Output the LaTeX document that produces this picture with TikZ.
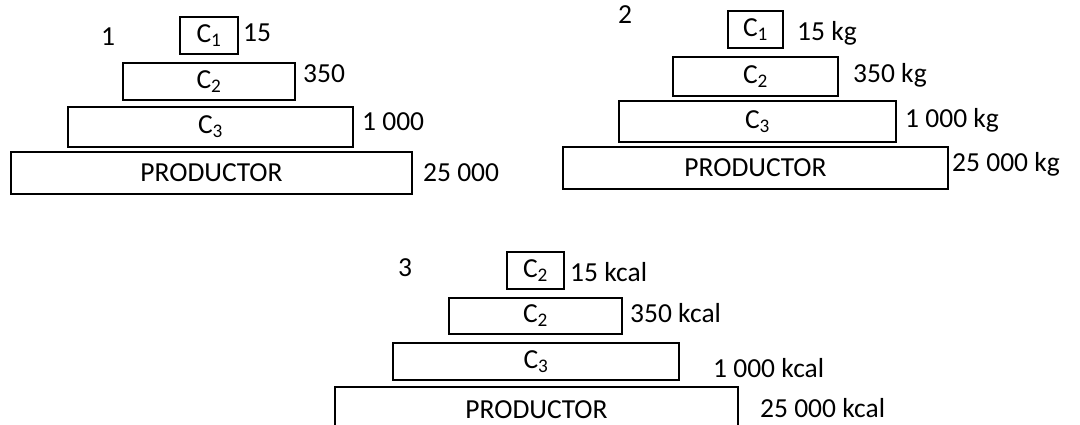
\documentclass[tikz,border=0pt]{standalone}
\usepackage{fontspec}
\setmainfont{Carlito}
\begin{document}
\begin{tikzpicture}[x=1pt,y=-1pt,
  lvl/.style={draw=black,line width=1.1pt,rectangle,inner sep=0pt,font=\fontsize{27.5}{30}\selectfont},
  val/.style={anchor=west,inner sep=0pt,font=\fontsize{27.5}{30}\selectfont},
  num/.style={inner sep=0pt,font=\fontsize{27.5}{30}\selectfont}]
\clip (0,0) rectangle (1080,425);
\fill[white] (0,0) rectangle (1080,425);
% Panel 1
\node[num] (n1) at (108,37) {1};
\node[lvl,minimum width=58pt,minimum height=37pt] (a1) at (209,35.5) {C\textsubscript{1}};
\node[lvl,minimum width=172pt,minimum height=37pt] (a2) at (209,81.5) {C\textsubscript{2}};
\node[lvl,minimum width=285pt,minimum height=40pt] (a3) at (210.5,127) {C\textsubscript{3}};
\node[lvl,minimum width=401pt,minimum height=42pt] (a4) at (211.5,173) {PRODUCTOR};
\node[val] (la1) at (243,33) {15};
\node[val] (la2) at (303,74) {350};
\node[val] (la3) at (362,122) {1 000};
\node[val] (la4) at (423,173) {25 000};
% Panel 2
\node[num] (n2) at (625,15) {2};
\node[lvl,minimum width=55pt,minimum height=37pt] (b1) at (755.5,29.5) {C\textsubscript{1}};
\node[lvl,minimum width=165pt,minimum height=39pt] (b2) at (755.5,76.5) {C\textsubscript{2}};
\node[lvl,minimum width=277pt,minimum height=41pt] (b3) at (757.5,121.5) {C\textsubscript{3}};
\node[lvl,minimum width=385pt,minimum height=42pt] (b4) at (755.5,168) {PRODUCTOR};
\node[val] (lb1) at (797,33) {15 kg};
\node[val] (lb2) at (853,75) {350 kg};
\node[val] (lb3) at (905,120) {1 000 kg};
\node[val] (lb4) at (952,164) {25 000 kg};
% Panel 3
\node[num] (n3) at (405,268) {3};
\node[lvl,minimum width=57pt,minimum height=37pt] (c1) at (535.5,270.5) {C\textsubscript{2}};
\node[lvl,minimum width=173pt,minimum height=36pt] (c2) at (535.5,316) {C\textsubscript{2}};
\node[lvl,minimum width=286pt,minimum height=37pt] (c3) at (536,361.5) {C\textsubscript{3}};
\node[lvl,minimum width=403pt,minimum height=46pt] (c4) at (536.5,410) {PRODUCTOR};
\node[val] (lc1) at (570,272) {15 kcal};
\node[val] (lc2) at (630,313) {350 kcal};
\node[val] (lc3) at (713,368) {1 000 kcal};
\node[val] (lc4) at (760,408) {25 000 kcal};
\end{tikzpicture}
\end{document}
